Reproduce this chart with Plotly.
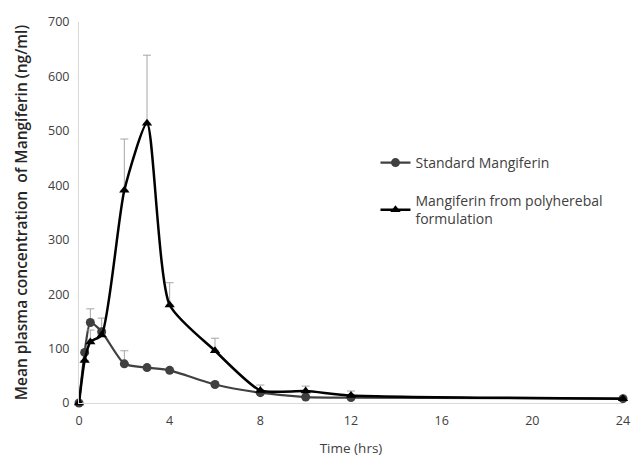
import plotly.graph_objects as go

time = [0, 0.25, 0.5, 1, 2, 3, 4, 6, 8, 10, 12, 24]

std_name = "Standard Mangiferin"
std_vals = [0, 93, 148, 131, 72, 65, 60, 34, 19, 11, 10, 8]
std_err = [0, 0, 25, 25, 24, 0, 0, 0, 0, 0, 0, 0]

poly_name = "Mangiferin from polyherebal<br>formulation"
poly_vals = [0, 78, 112, 125, 391, 514, 180, 96, 23, 22, 14, 8]
poly_err = [0, 0, 22, 0, 94, 125, 41, 23, 10, 9, 8, 0]

y_ticks = [0, 100, 200, 300, 400, 500, 600, 700]
x_ticks = [0, 4, 8, 12, 16, 20, 24]

FONT = "'Open Sans', Lato, sans-serif"
TXT = "#404040"
ERR = "#a6a6a6"

fig = go.Figure()
fig.add_trace(go.Scatter(
    x=time, y=std_vals, name=std_name, mode="lines+markers", legendgroup="a",
    line=dict(color="#404040", width=2.25, shape="spline", smoothing=0.6),
    marker=dict(symbol="circle", size=9, color="#404040"),
    error_y=dict(type="data", array=std_err, arrayminus=[0]*len(std_err),
                 symmetric=False, color=ERR, thickness=1, width=4),
    cliponaxis=False,
))
fig.add_trace(go.Scatter(
    x=time, y=poly_vals, name=poly_name, mode="lines+markers", legendgroup="b",
    line=dict(color="#000000", width=2.5, shape="spline", smoothing=0.6),
    marker=dict(symbol="triangle-up", size=9, color="#000000"),
    error_y=dict(type="data", array=poly_err, arrayminus=[0]*len(poly_err),
                 symmetric=False, color=ERR, thickness=1, width=4),
    cliponaxis=False,
))

fig.update_layout(
    width=632, height=459,
    margin=dict(l=79, r=9, t=22, b=56),
    paper_bgcolor="white", plot_bgcolor="white",
    font=dict(family=FONT, size=12, color=TXT),
    showlegend=True,
    legend=dict(x=0.545, y=0.672, xanchor="left", yanchor="top",
                bgcolor="rgba(0,0,0,0)", font=dict(size=14, color=TXT),
                itemwidth=30, tracegroupgap=17, traceorder="grouped"),
    xaxis=dict(range=[0, 24], tickvals=x_ticks, ticktext=[str(v) for v in x_ticks],
               automargin=False,
               showgrid=False, zeroline=False, showline=True, linecolor="#d9d9d9",
               linewidth=1, ticks="", ticklabelstandoff=6, tickfont=dict(size=12.5, color=TXT),
               title=dict(text="Time (hrs)", font=dict(size=13.5, color=TXT), standoff=15)),
    yaxis=dict(range=[0, 700], tickvals=y_ticks, ticktext=[str(v) for v in y_ticks],
               automargin=False,
               showgrid=False, zeroline=False, showline=True, linecolor="#d9d9d9",
               linewidth=1, ticks="", ticklabelstandoff=6, tickfont=dict(size=12.5, color=TXT),
               title=dict(text="Mean plasma concentration  of Mangiferin (ng/ml)",
                          font=dict(size=15.5, color="#262626", weight=600), standoff=16)),
)

fig.write_html("out.html")
